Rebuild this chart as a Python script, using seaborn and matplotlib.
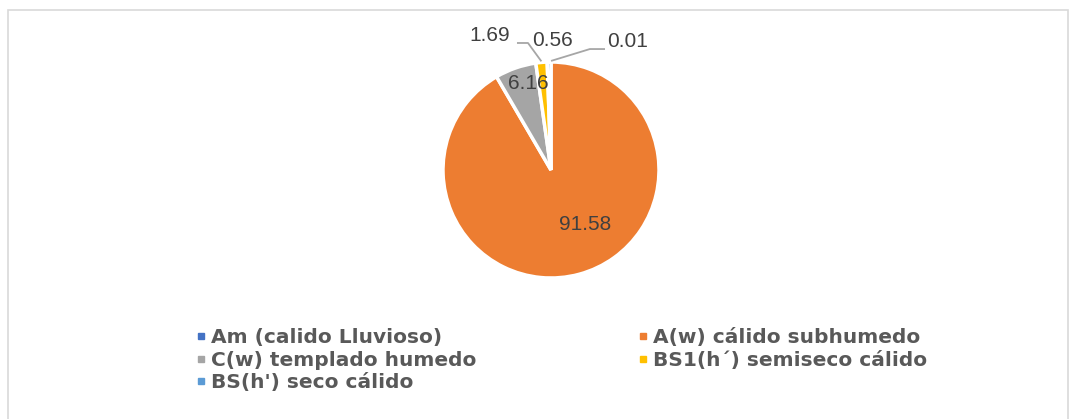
import numpy as np
import seaborn as sns
import matplotlib.pyplot as plt
from matplotlib.patches import Rectangle
from matplotlib.lines import Line2D

sns.set_theme(style="white")
plt.rcParams['font.family'] = ['Liberation Sans', 'DejaVu Sans']

# datos del grafico
climas = ["Am (calido Lluvioso)", "A(w) cálido subhumedo", "C(w) templado humedo",
          "BS1(h´) semiseco cálido", "BS(h') seco cálido"]
porcentajes = [0.01, 91.58, 6.16, 1.69, 0.56]
etiquetas = ["0.01", "91.58", "6.16", "1.69", "0.56"]
colores = ["#4472C4", "#ED7D31", "#A5A5A5", "#FFC000", "#5B9BD5"]

W, H = 1076, 419
fig = plt.figure(figsize=(W / 100, H / 100), dpi=100)

# marco del grafico
fig.patches.append(Rectangle((8 / W, -0.05), 1060 / W, 1.05 - 10 / H, transform=fig.transFigure,
                             fill=False, edgecolor="#D9D9D9", linewidth=1.2))

# pie centrado en (551, 170) px, radio 108 px
R = 108
side = 320
ax = fig.add_axes([(551 - side / 2) / W, (H - 170 - side / 2) / H, side / W, side / H])
ax.axis("off")

wedges, _ = ax.pie(porcentajes, colors=colores, startangle=90, counterclock=False,
                   wedgeprops=dict(edgecolor="white", linewidth=2.5), radius=1)
lim = side / 2 / R
ax.set_xlim(-lim, lim)
ax.set_ylim(-lim, lim)
ax.set_aspect("equal")

label_style = dict(fontsize=15, color="#404040", ha="center", va="center")

def medio(i):
    w = wedges[i]
    ang = np.deg2rad((w.theta1 + w.theta2) / 2)
    return np.cos(ang), np.sin(ang)

# etiquetas internas
ax.text(0.32, -0.50, etiquetas[1], **label_style)
cx, cy = medio(2)
ax.text(0.83 * cx + 0.06, 0.83 * cy + 0.02, etiquetas[2], **label_style)

# etiquetas externas con lineas guia
guia = dict(color="#A6A6A6", lw=1.3, solid_capstyle="butt")

def externa(i, xy_txt, codo=None):
    ax.text(xy_txt[0], xy_txt[1], etiquetas[i], **label_style)
    if codo is not None:
        px, py = medio(i)
        xs = [codo[0][0], codo[1][0], 1.01 * px]
        ys = [codo[0][1], codo[1][1], 1.01 * py]
        ax.plot(xs, ys, **guia)

externa(0, (0.71, 1.19), [(0.50, 1.12), (0.36, 1.12)])
externa(3, (-0.565, 1.25), [(-0.315, 1.176), (-0.213, 1.176)])
externa(4, (0.01, 1.20))

# leyenda en dos columnas
def leyenda(indices, x_px):
    handles = [Line2D([], [], marker="s", linestyle="", markersize=5,
                      markerfacecolor=colores[k], markeredgecolor=colores[k]) for k in indices]
    leg = fig.legend(handles, [climas[k] for k in indices], loc="upper left",
                     bbox_to_anchor=(x_px / W, 1 - 318 / H), frameon=False,
                     prop=dict(family="DejaVu Sans", size=14.5, weight="bold"),
                     handlelength=0.4, handletextpad=0.3, labelspacing=0.18, borderpad=0)
    for t in leg.get_texts():
        t.set_color("#595959")

leyenda([0, 2, 4], 187)
leyenda([1, 3], 629)

fig.savefig("out.png", dpi=100)
